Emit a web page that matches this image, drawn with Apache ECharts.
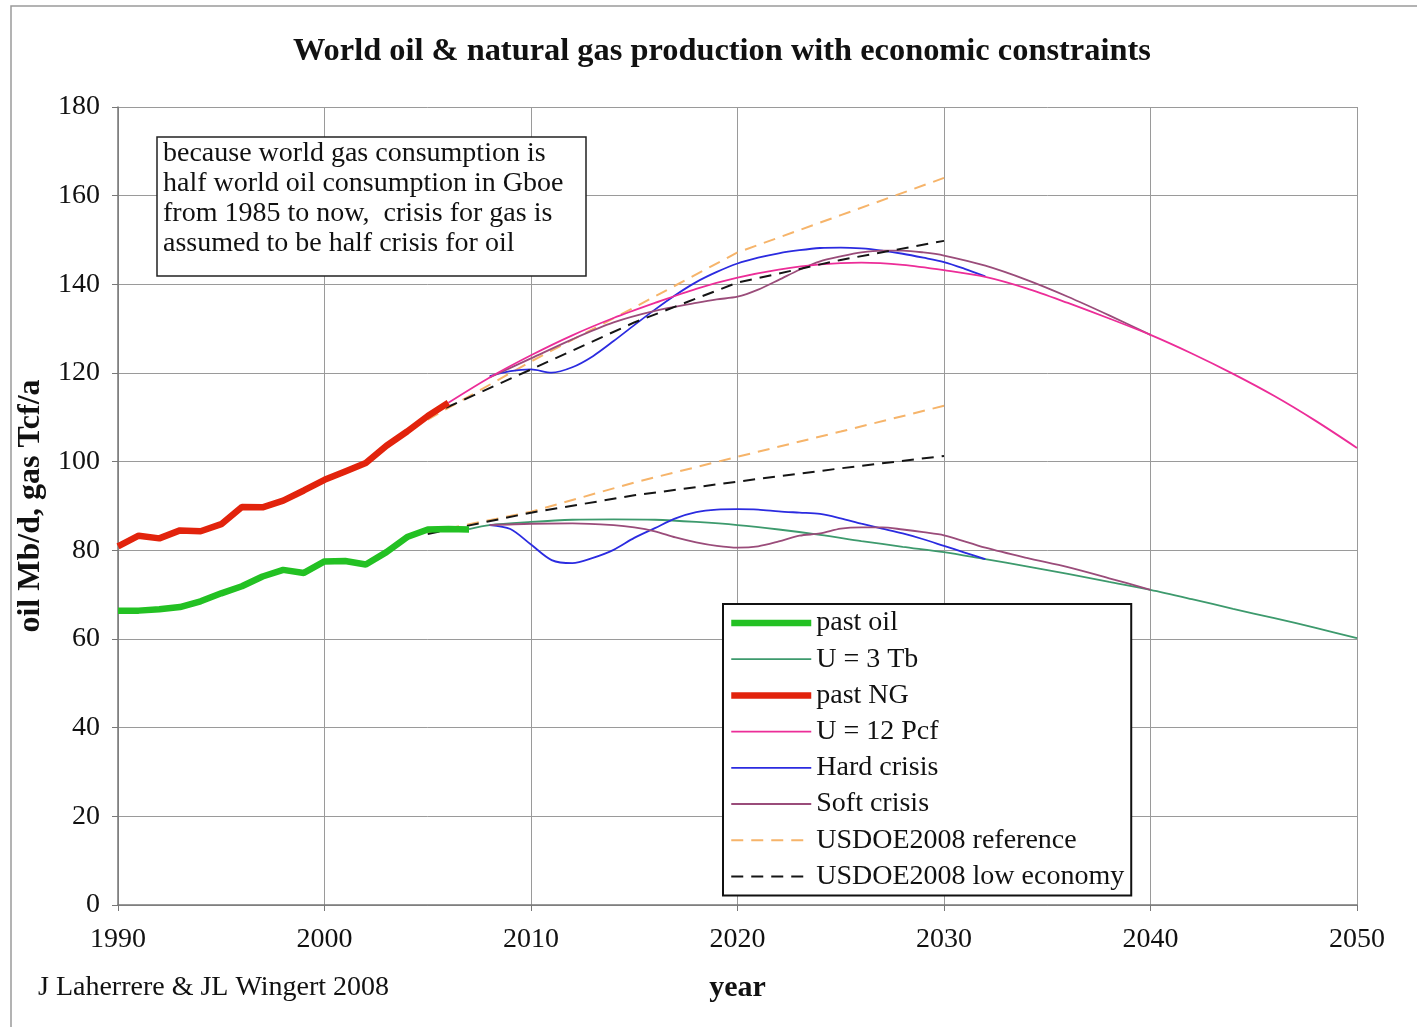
<!DOCTYPE html>
<html>
<head>
<meta charset="utf-8">
<script src="https://cdn.jsdelivr.net/npm/echarts@6/dist/echarts.min.js"></script>
<style>
html,body{margin:0;padding:0;background:#fff;}
#c{width:1417px;height:1027px;}
</style>
</head>
<body>
<div id="c"></div>
<script>
// ---------- DATA ----------
const pastOilYears = [1990,1991,1992,1993,1994,1995,1996,1997,1998,1999,2000,2001,2002,2003,2004,2005,2006,2007];
const pastOil      = [66.4,66.4,66.7,67.2,68.5,70.3,71.9,74.1,75.6,74.9,77.5,77.6,76.8,79.6,83.0,84.7,84.8,84.7];

const pastNGYears  = [1990,1991,1992,1993,1994,1995,1996,1997,1998,1999,2000,2001,2002,2003,2004,2005,2006];
const pastNG       = [80.9,83.3,82.7,84.5,84.3,85.9,89.8,89.7,91.2,93.5,95.9,97.8,99.7,103.6,106.8,110.3,113.3];

const u3tbYears = [2007,2008,2010,2012,2014,2016,2018,2020,2022,2024,2026,2028,2030,2032,2034,2036,2038,2040,2042,2044,2046,2048,2050];
const u3tb      = [84.8,85.7,86.4,86.9,87.0,86.9,86.4,85.7,84.7,83.5,82.1,80.8,79.6,78.0,76.4,74.7,72.9,71.1,69.0,66.8,64.7,62.5,60.2];

const u12pcfYears = [2006,2008,2010,2012,2014,2016,2018,2020,2022,2024,2026,2028,2030,2032,2034,2036,2038,2040,2042,2044,2046,2048,2050];
const u12pcf      = [113.3,119.0,124.0,128.5,132.4,135.8,139.0,141.5,143.3,144.5,144.9,144.4,143.2,141.7,139.1,135.8,132.3,128.6,124.4,119.8,114.8,109.2,103.1];

const hardGasYears = [2008,2009,2010,2011,2012,2013,2014,2015,2016,2017,2018,2019,2020,2021,2022,2023,2024,2025,2026,2027,2028,2029,2030,2031,2032];
const hardGas      = [119.3,120.4,120.8,120.1,121.3,123.8,127.2,130.8,134.3,137.6,140.5,142.8,144.7,146.0,147.0,147.7,148.2,148.3,148.1,147.6,146.9,146.0,145.0,143.5,141.8];

const hardOilYears = [2008,2009,2010,2011,2012,2013,2014,2015,2016,2017,2018,2019,2020,2021,2022,2023,2024,2025,2026,2027,2028,2029,2030,2031,2032];
const hardOil      = [85.7,84.8,81.3,77.8,77.1,78.3,80.1,82.8,85.0,87.2,88.6,89.2,89.3,89.2,88.8,88.5,88.2,87.2,86.0,84.9,83.8,82.5,81.0,79.5,78.0];

const softGasYears = [2008,2010,2012,2014,2016,2018,2019,2020,2021,2022,2023,2024,2025,2026,2027,2028,2029,2030,2032,2034,2036,2038,2040];
const softGas      = [119.0,123.3,127.6,131.4,134.0,135.8,136.6,137.2,138.8,141.0,143.3,145.2,146.3,147.2,147.6,147.6,147.2,146.5,144.2,141.0,137.2,133.0,128.6];

const softOilYears = [2008,2010,2012,2014,2015,2016,2017,2018,2019,2020,2021,2022,2023,2024,2025,2026,2027,2028,2029,2030,2032,2034,2036,2038,2040];
const softOil      = [85.7,86.0,86.1,85.7,85.2,84.3,82.9,81.8,81.0,80.6,80.9,82.0,83.3,83.8,84.9,85.2,85.2,84.7,84.1,83.4,80.6,78.3,76.2,73.7,71.1];

const doeYears   = [2005,2010,2015,2020,2025,2030];
const doeRefGas  = [109.5,122.6,134.8,147.2,155.6,164.0];
const doeLowGas  = [110.3,120.8,131.4,140.4,145.5,149.8];
const doeRefOil  = [84.0,88.7,95.3,101.1,106.8,112.6];
const doeLowOil  = [83.7,88.5,92.4,95.5,98.5,101.3];

const xTicks = [1990,2000,2010,2020,2030,2040,2050];
const yTicks = [0,20,40,60,80,100,120,140,160,180];

const legendNames = ['past oil','U = 3 Tb','past NG','U = 12 Pcf','Hard crisis','Soft crisis','USDOE2008 reference','USDOE2008 low economy'];
const noteLines = ['because world gas consumption is','half world oil consumption in Gboe','from 1985 to now,  crisis for gas is','assumed to be half crisis for oil'];

// ---------- CHART ----------
const FF = '"Liberation Serif","Times New Roman",serif';
function pairs(xs, ys){ return xs.map((x,i)=>[x, ys[i]]); }
function line(name, xs, ys, color, width, type, z, smooth){
  return {
    name: name, type: 'line', data: pairs(xs, ys), symbol: 'none', smooth: smooth || false,
    lineStyle: {color: color, width: width, type: type || 'solid'},
    itemStyle: {color: color}, z: z || 2, animation: false
  };
}
const C = {
  pastOil: '#23c123', u3: '#3d9a6d', pastNG: '#e2230c', u12: '#ec2d98',
  hard: '#2b2be0', soft: '#9a4c7a', ref: '#f6b46a', low: '#151515'
};
const DASH = [12, 8];

const chart = echarts.init(document.getElementById('c'), null, {renderer: 'canvas'});
chart.setOption({
  backgroundColor: '#fff',
  animation: false,
  title: [
    {text: 'World oil & natural gas production with economic constraints', left: 288, top: 31,
     textStyle: {fontFamily: FF, fontSize: 32.4, fontWeight: 'bold', color: '#111'}},
    {text: noteLines.join('\n'), left: 157, top: 137, padding: [2, 23, 17, 6],
     borderColor: '#222', borderWidth: 1.5, backgroundColor: '#fff',
     textStyle: {fontFamily: FF, fontSize: 28, fontWeight: 'normal', lineHeight: 30, color: '#111'}},
    {text: 'J Laherrere & JL Wingert 2008', left: 33, top: 969,
     textStyle: {fontFamily: FF, fontSize: 28, fontWeight: 'normal', color: '#111'}}
  ],
  grid: {left: 118, right: 60, top: 107, bottom: 122, containLabel: false},
  xAxis: {
    type: 'value', min: xTicks[0], max: xTicks[xTicks.length-1], interval: 10,
    name: 'year', nameLocation: 'middle', nameGap: 68,
    nameTextStyle: {fontFamily: FF, fontSize: 30, fontWeight: 'bold', color: '#111'},
    axisLine: {lineStyle: {color: '#777', width: 1.5}},
    axisTick: {show: true, length: 6, lineStyle: {color: '#777'}},
    axisLabel: {fontFamily: FF, fontSize: 28, color: '#111', margin: 21, formatter: v => String(v)},
    splitLine: {show: true, lineStyle: {color: '#9a9a9a', width: 1}}
  },
  yAxis: {
    type: 'value', min: yTicks[0], max: yTicks[yTicks.length-1], interval: 20,
    name: 'oil Mb/d, gas Tcf/a', nameLocation: 'middle', nameGap: 68,
    nameTextStyle: {fontFamily: FF, fontSize: 32, fontWeight: 'bold', color: '#111'},
    axisLine: {show: true, lineStyle: {color: '#777', width: 1.5}},
    axisTick: {show: true, length: 6, lineStyle: {color: '#777'}},
    axisLabel: {fontFamily: FF, fontSize: 28, color: '#111', margin: 18},
    splitLine: {show: true, lineStyle: {color: '#9a9a9a', width: 1}}
  },
  legend: {
    orient: 'vertical', left: 723, top: 604, padding: [5, 7, 5, 5],
    itemWidth: 80, itemHeight: 14, itemGap: 8.2,
    backgroundColor: '#fff', borderColor: '#111', borderWidth: 2,
    textStyle: {fontFamily: FF, fontSize: 28, color: '#111'},
    itemStyle: {opacity: 0},
    lineStyle: {width: 'inherit', type: 'inherit', color: 'inherit'},
    data: legendNames, selectedMode: false
  },
  graphic: [
    {type: 'rect', silent: true, z: -10, shape: {x: 11, y: 6, width: 1430, height: 1050},
     style: {fill: 'none', stroke: '#9a9a9a', lineWidth: 1.5}}
  ],
  series: [
    line(legendNames[6], doeYears, doeRefGas, C.ref, 2, DASH, 3),
    line(legendNames[6], doeYears, doeRefOil, C.ref, 2, DASH, 3),
    line(legendNames[1], u3tbYears, u3tb, C.u3, 1.8, 'solid', 2, 0.3),
    line(legendNames[4], hardGasYears, hardGas, C.hard, 1.8, 'solid', 3, 0.3),
    line(legendNames[4], hardOilYears, hardOil, C.hard, 1.8, 'solid', 3, 0.3),
    line(legendNames[5], softGasYears, softGas, C.soft, 1.8, 'solid', 4, 0.3),
    line(legendNames[5], softOilYears, softOil, C.soft, 1.8, 'solid', 4, 0.3),
    line(legendNames[3], u12pcfYears, u12pcf, C.u12, 1.8, 'solid', 5, 0.3),
    line(legendNames[7], doeYears, doeLowGas, C.low, 2, DASH, 6),
    line(legendNames[7], doeYears, doeLowOil, C.low, 2, DASH, 6),
    line(legendNames[0], pastOilYears, pastOil, C.pastOil, 6.5, 'solid', 7),
    line(legendNames[2], pastNGYears, pastNG, C.pastNG, 6.5, 'solid', 7)
  ]
});
</script>
</body>
</html>
